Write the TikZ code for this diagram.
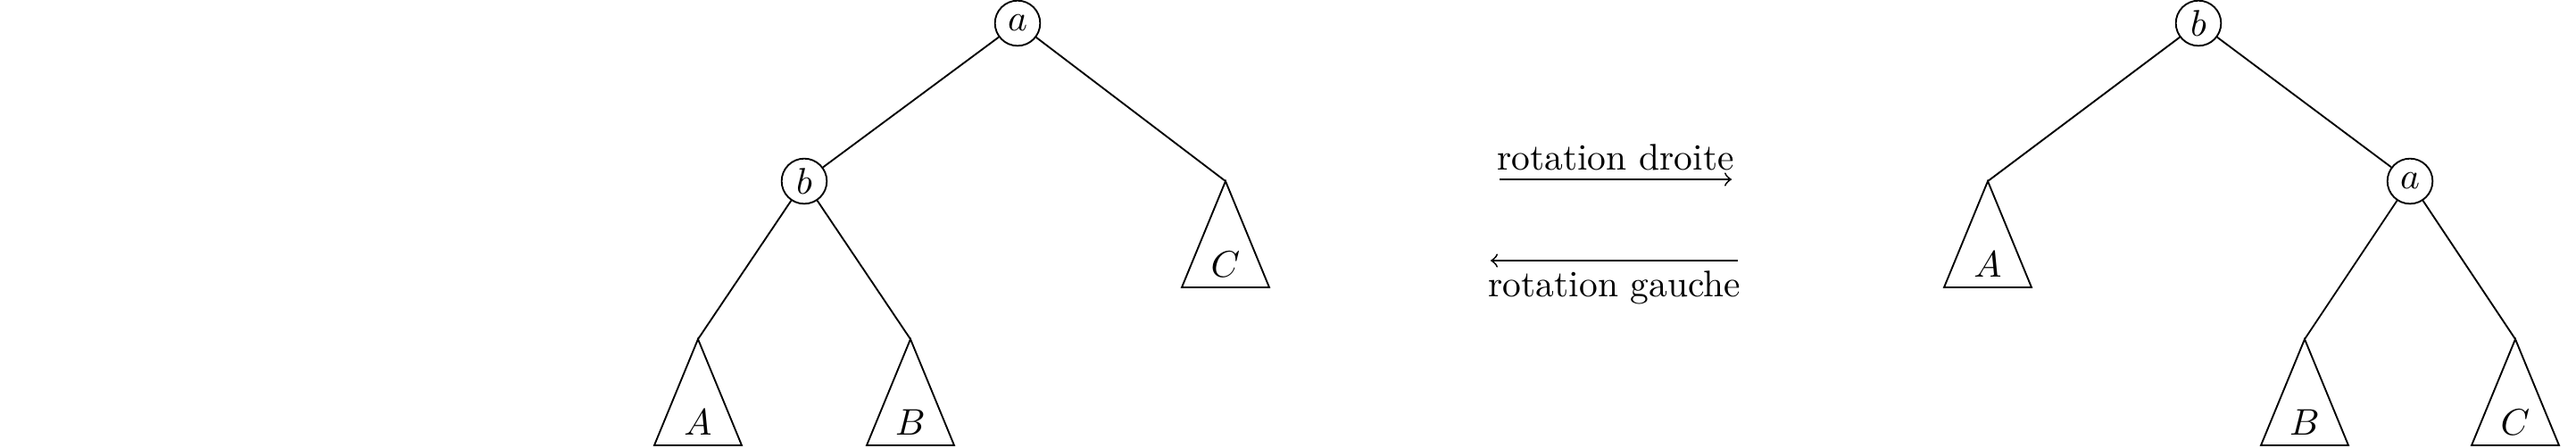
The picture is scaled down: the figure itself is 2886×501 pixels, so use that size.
\documentclass[tikz,border=0pt]{standalone}
\usetikzlibrary{calc}
\tikzset{
  vtx/.style={circle, draw, line width=0.45pt, inner sep=0pt, minimum size=12.2pt},
  treeline/.style={line width=0.45pt},
  tri/.style={line width=0.45pt, line join=miter},
  lbl/.style={inner sep=0pt},
  rotarrow/.style={->, line width=0.45pt},
}
\newcommand\subtri[3]{%
  \coordinate (#1) at (#2);
  \draw[tri] (#1) -- ++(-49,119) -- ++(98,0) -- cycle;
  \node[lbl] (#1t) at ($(#1)+(0,93)$) {$#3$};
}
\begin{document}
\begin{tikzpicture}[x=0.0084746cm, y=-0.0084746cm]
\useasboundingbox (0,0) rectangle (2886,501);
% left tree
\node[vtx] (la) at (1140,26) {$a$};
\node[vtx] (lb) at (901,203) {$b$};
\subtri{lC}{1373,203}{C}
\subtri{lA}{782,380}{A}
\subtri{lB}{1020,380}{B}
\draw[treeline] (la) -- (lb);
\draw[treeline] (la) -- (lC);
\draw[treeline] (lb) -- (lA);
\draw[treeline] (lb) -- (lB);
% arrows
\coordinate (r1) at (1680,201);
\coordinate (r2) at (1940,201);
\draw[rotarrow] (r1) -- (r2);
\node[anchor=base] (rd) at (1810,190) {rotation droite};
\coordinate (g1) at (1947,292);
\coordinate (g2) at (1670,292);
\draw[rotarrow] (g1) -- (g2);
\node[anchor=base] (rg) at (1809,332) {rotation gauche};
% right tree
\node[vtx] (rb) at (2463,26) {$b$};
\node[vtx] (ra) at (2700,203) {$a$};
\subtri{rA}{2227,203}{A}
\subtri{rB}{2582,380}{B}
\subtri{rC}{2818,380}{C}
\draw[treeline] (rb) -- (rA);
\draw[treeline] (rb) -- (ra);
\draw[treeline] (ra) -- (rB);
\draw[treeline] (ra) -- (rC);
\end{tikzpicture}
\end{document}
